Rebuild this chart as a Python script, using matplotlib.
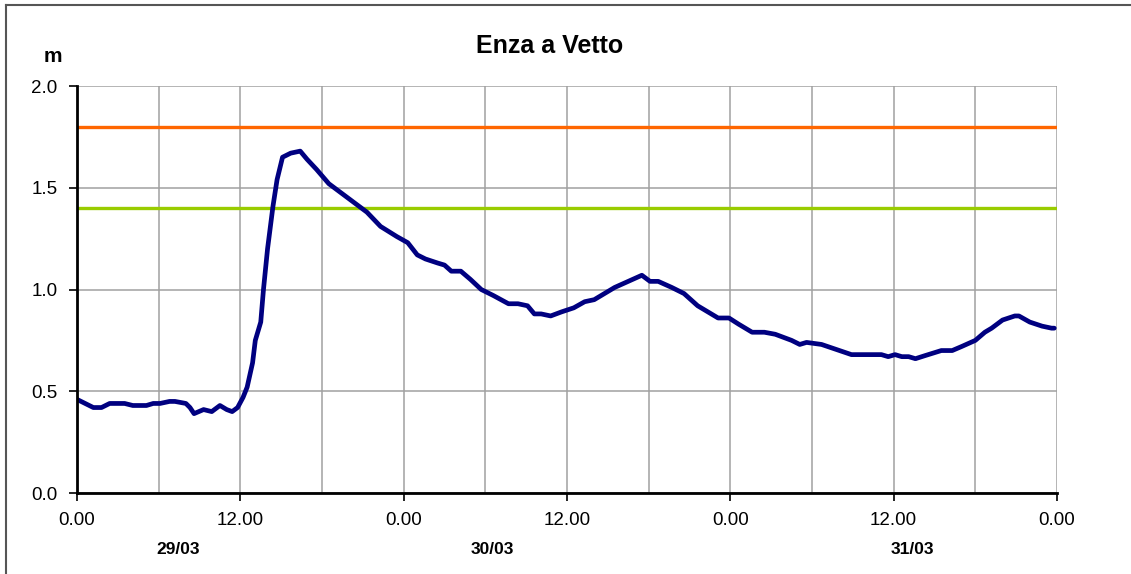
import matplotlib.pyplot as plt
from matplotlib.lines import Line2D
from matplotlib.ticker import MultipleLocator
import matplotlib.transforms as mtransforms

plt.rcParams['font.family'] = ['Liberation Sans', 'DejaVu Sans']

# water level at Vetto (hours from 29/03 00:00, metres)
hours = [0.0, 0.6, 1.2, 1.8, 2.4, 3.5, 4.1, 5.1, 5.6, 6.1, 6.8, 7.2, 8.0, 8.3, 8.6,
         9.3, 9.9, 10.5, 11.0, 11.4, 11.8, 12.2, 12.5, 12.9, 13.1, 13.5, 13.7, 14.0,
         14.4, 14.7, 15.1, 15.7, 16.4, 16.9, 17.6, 18.5, 19.9, 21.3, 22.3, 23.5, 24.3,
         25.0, 25.6, 26.5, 27.0, 27.5, 28.2, 28.9, 29.7, 30.6, 31.7, 32.4, 33.1, 33.6,
         34.1, 34.8, 35.6, 36.5, 37.3, 38.0, 39.5, 40.5, 41.5, 42.1, 42.7, 43.7, 44.6,
         45.6, 46.6, 47.1, 47.9, 48.6, 49.6, 50.5, 51.3, 52.5, 53.1, 53.6, 54.7, 56.9,
         59.1, 59.6, 60.1, 60.6, 61.1, 61.6, 62.3, 63.5, 64.3, 65.0, 66.0, 66.7, 67.2,
         68.0, 68.9, 69.2, 70.0, 70.9, 71.6, 71.8]
level = [0.46, 0.44, 0.42, 0.42, 0.44, 0.44, 0.43, 0.43, 0.44, 0.44, 0.45, 0.45, 0.44, 0.42, 0.39,
         0.41, 0.40, 0.43, 0.41, 0.40, 0.42, 0.47, 0.52, 0.64, 0.75, 0.84, 1.00, 1.20,
         1.41, 1.54, 1.65, 1.67, 1.68, 1.64, 1.59, 1.52, 1.45, 1.38, 1.31, 1.26, 1.23,
         1.17, 1.15, 1.13, 1.12, 1.09, 1.09, 1.05, 1.00, 0.97, 0.93, 0.93, 0.92, 0.88,
         0.88, 0.87, 0.89, 0.91, 0.94, 0.95, 1.01, 1.04, 1.07, 1.04, 1.04, 1.01, 0.98,
         0.92, 0.88, 0.86, 0.86, 0.83, 0.79, 0.79, 0.78, 0.75, 0.73, 0.74, 0.73, 0.68,
         0.68, 0.67, 0.68, 0.67, 0.67, 0.66, 0.675, 0.70, 0.70, 0.72, 0.75, 0.79, 0.81,
         0.85, 0.87, 0.87, 0.84, 0.82, 0.81, 0.81]

threshold_high = 1.8
threshold_low = 1.4

tick_hours = [0, 12, 24, 36, 48, 60, 72]
tick_labels = ['0.00', '12.00', '0.00', '12.00', '0.00', '12.00', '0.00']
day_labels = ['29/03', '30/03', '31/03']
day_pos = [7.4, 30.5, 61.4]

fig = plt.figure(figsize=(11.31, 5.74), dpi=100)
ax = fig.add_axes([77 / 1131, 81 / 574, 980 / 1131, 407 / 574])

ax.axhline(threshold_high, color='#FF6600', lw=2.4, zorder=3)
ax.axhline(threshold_low, color='#99CC00', lw=2.4, zorder=3)
ax.plot(hours, level, color='#000080', lw=3.4, solid_capstyle='round',
        solid_joinstyle='round', zorder=4)

ax.set_xlim(0, 72)
ax.set_ylim(0, 2)
ax.grid(True, color='#A0A0A0', lw=1.1)
ax.set_axisbelow(True)

ax.set_xticks(tick_hours)
ax.set_xticklabels(tick_labels)
ax.set_xticks([6, 18, 30, 42, 54, 66], minor=True)
ax.xaxis.grid(True, which='minor', color='#A0A0A0', lw=1.1)
ax.set_yticks([0, 0.5, 1.0, 1.5, 2.0])
ax.set_yticklabels(['0.0', '0.5', '1.0', '1.5', '2.0'])
ax.tick_params(axis='both', which='major', direction='out', length=6, width=1.2,
               labelsize=13.5, pad=8, color='black')
ax.tick_params(axis='x', which='minor', length=0)

for side in ['top', 'right']:
    ax.spines[side].set_visible(False)
for side in ['left', 'bottom']:
    ax.spines[side].set_linewidth(2)
    ax.spines[side].set_zorder(5)

trans = mtransforms.blended_transform_factory(ax.transData, fig.transFigure)
for lab, pos in zip(day_labels, day_pos):
    ax.text(pos, 1 - 550 / 574, lab, transform=trans, ha='center', va='center',
            fontsize=12.5, fontweight='bold')

fig.text(550 / 1131, 1 - 46 / 574, 'Enza a Vetto', ha='center', va='center',
         fontsize=18, fontweight='bold')
fig.text(53 / 1131, 1 - 57 / 574, 'm', ha='center', va='center',
         fontsize=15, fontweight='bold')

# outer frame (only top and left edges visible in the crop)
fig.add_artist(Line2D([6 / 1131, 1], [1 - 5 / 574, 1 - 5 / 574],
                      transform=fig.transFigure, color='#555555', lw=1.5))
fig.add_artist(Line2D([6 / 1131, 6 / 1131], [0, 1 - 5 / 574],
                      transform=fig.transFigure, color='#555555', lw=1.5))

fig.savefig('out.png', dpi=100)
